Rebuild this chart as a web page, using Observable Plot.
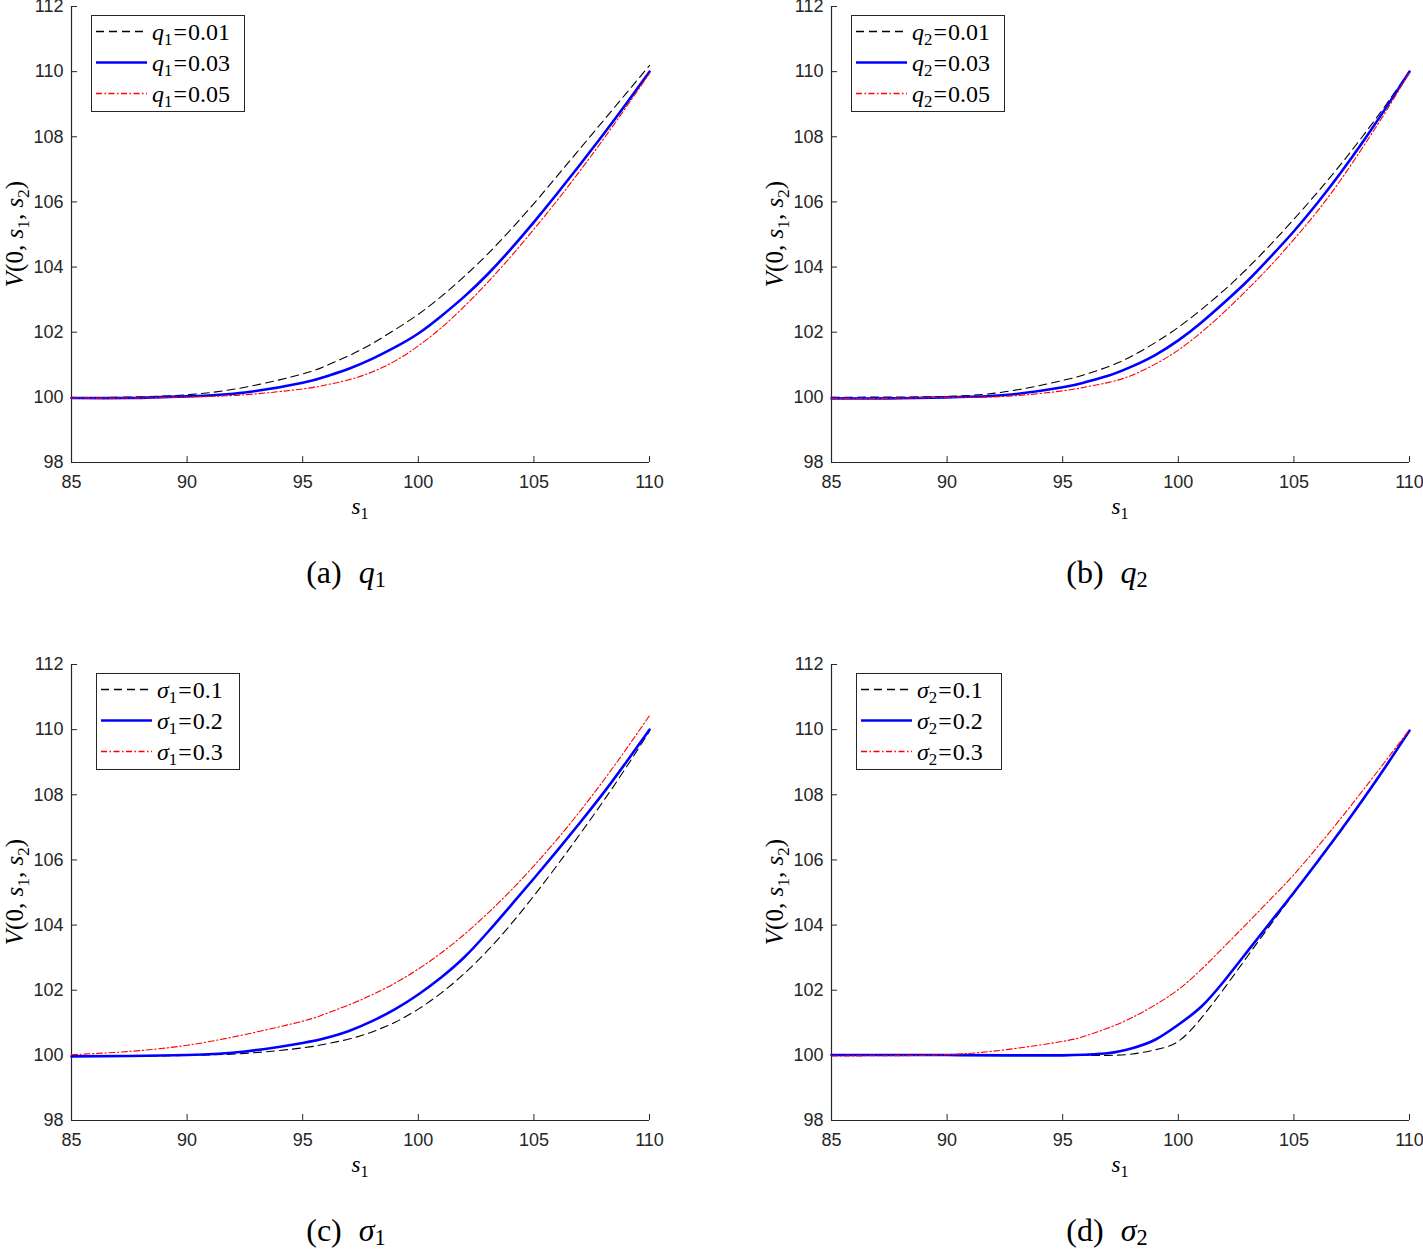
<!DOCTYPE html>
<html><head><meta charset="utf-8">
<script src="https://cdn.jsdelivr.net/npm/d3@7"></script>
<script src="https://cdn.jsdelivr.net/npm/@observablehq/plot@0.6"></script>
<style>
body{margin:0;background:#fff;}
#root{position:relative;width:1423px;height:1253px;overflow:hidden;background:#fff;}
.panel{position:absolute;}
#overlay{position:absolute;left:0;top:0;pointer-events:none;}
</style></head><body><div id="root"></div>
<script>
// ---- data ----
const sGrid = [85, 87.5, 90, 92.5, 95, 96, 97, 98, 99, 100, 101, 102, 103, 104, 105, 106, 107, 108, 109, 110];
const xTicks = [85, 90, 95, 100, 105, 110];
const yTicks = [98, 100, 102, 104, 106, 108, 110, 112];

// (a) q1
const a_q1_001 = [99.98, 100.01, 100.08, 100.31, 100.72, 100.97, 101.28, 101.65, 102.08, 102.55, 103.1, 103.72, 104.4, 105.15, 105.95, 106.79, 107.64, 108.49, 109.34, 110.19];
const a_q1_003 = [99.98, 99.98, 100.03, 100.15, 100.45, 100.64, 100.88, 101.18, 101.54, 101.96, 102.5, 103.1, 103.78, 104.55, 105.38, 106.25, 107.15, 108.07, 109.02, 110.0];
const a_q1_005 = [99.98, 99.98, 100.01, 100.08, 100.26, 100.38, 100.54, 100.78, 101.12, 101.58, 102.14, 102.8, 103.53, 104.32, 105.16, 106.04, 106.96, 107.92, 108.92, 109.95];
// (b) q2
const b_q2_001 = [100.0, 100.01, 100.03, 100.17, 100.52, 100.71, 100.95, 101.27, 101.68, 102.15, 102.7, 103.3, 103.97, 104.7, 105.47, 106.28, 107.13, 108.04, 109.0, 110.02];
const b_q2_003 = [99.97, 99.97, 100.0, 100.07, 100.31, 100.47, 100.67, 100.95, 101.3, 101.75, 102.3, 102.92, 103.58, 104.32, 105.1, 105.95, 106.87, 107.86, 108.91, 110.0];
const b_q2_005 = [99.97, 99.97, 100.0, 100.03, 100.2, 100.32, 100.46, 100.68, 101.02, 101.45, 102.0, 102.63, 103.32, 104.05, 104.85, 105.7, 106.65, 107.7, 108.8, 109.98];
// (c) sigma1
const c_s1_01 = [99.97, 99.97, 100.0, 100.06, 100.23, 100.35, 100.5, 100.72, 101.02, 101.42, 101.92, 102.52, 103.22, 104.02, 104.9, 105.83, 106.8, 107.8, 108.85, 109.95];
const c_s1_02 = [99.97, 99.98, 100.01, 100.12, 100.38, 100.53, 100.75, 101.05, 101.42, 101.87, 102.4, 103.02, 103.78, 104.6, 105.43, 106.28, 107.15, 108.05, 109.01, 110.0];
const c_s1_03 = [100.02, 100.12, 100.31, 100.64, 101.05, 101.28, 101.55, 101.86, 102.22, 102.65, 103.15, 103.72, 104.36, 105.06, 105.82, 106.63, 107.5, 108.43, 109.41, 110.43];
// (d) sigma2
const d_s2_01 = [100.0, 100.0, 100.0, 100.0, 100.0, 100.0, 100.0, 100.04, 100.17, 100.43, 101.15, 102.07, 103.05, 104.02, 104.97, 105.91, 106.86, 107.85, 108.89, 109.96];
const d_s2_02 = [100.01, 100.01, 100.01, 100.0, 100.0, 100.02, 100.07, 100.22, 100.48, 100.94, 101.5, 102.3, 103.2, 104.1, 105.0, 105.93, 106.88, 107.87, 108.9, 109.97];
const d_s2_03 = [99.98, 99.99, 100.02, 100.17, 100.43, 100.6, 100.85, 101.16, 101.55, 102.02, 102.64, 103.35, 104.07, 104.8, 105.55, 106.38, 107.25, 108.15, 109.07, 110.0];

const qLabels = ["0.01", "0.03", "0.05"];
const sigmaLabels = ["0.1", "0.2", "0.3"];

// ---- styles ----
const seriesStyles = [
  {stroke: "#000000", strokeWidth: 1.1, strokeDasharray: "8,5"},
  {stroke: "#0000ff", strokeWidth: 2.6, strokeDasharray: null},
  {stroke: "#ff0000", strokeWidth: 1.1, strokeDasharray: "6,2.5,1.5,2.5"}
];
const axisColor = "#262626";
const SERIF = "'Liberation Serif','Times New Roman',serif";

const panels = [
  {left: 0,   top: 0,   series: [a_q1_001, a_q1_003, a_q1_005], sym: "q", sub: "1", vals: qLabels, letter: "a",
   legend: {x: 91, y: 15, w: 153, h: 96}, capX: 346},
  {left: 760, top: 0,   series: [b_q2_001, b_q2_003, b_q2_005], sym: "q", sub: "2", vals: qLabels, letter: "b",
   legend: {x: 851, y: 15, w: 153, h: 96}, capX: 1107},
  {left: 0,   top: 658, series: [c_s1_01, c_s1_02, c_s1_03], sym: "σ", sub: "1", vals: sigmaLabels, letter: "c",
   legend: {x: 96, y: 673, w: 143, h: 96}, capX: 346},
  {left: 760, top: 658, series: [d_s2_01, d_s2_02, d_s2_03], sym: "σ", sub: "2", vals: sigmaLabels, letter: "d",
   legend: {x: 856, y: 673, w: 145, h: 96}, capX: 1107}
];

const W = 663, H = 530, ML = 71, MR = 14, MT = 6, MB = 68;
const root = document.getElementById("root");

for (const p of panels) {
  const lines = p.series.map((arr, k) => Plot.line(sGrid.map((s, i) => ({s, v: arr[i]})), {
    x: "s", y: "v", curve: "natural",
    stroke: seriesStyles[k].stroke, strokeWidth: seriesStyles[k].strokeWidth,
    strokeDasharray: seriesStyles[k].strokeDasharray
  }));
  const chart = Plot.plot({
    width: W, height: H,
    marginLeft: ML, marginRight: MR, marginTop: MT, marginBottom: MB,
    x: {domain: [85, 110]},
    y: {domain: [98, 112]},
    style: {fontFamily: "'Liberation Sans', Arial, sans-serif", fontSize: "18px", color: axisColor, background: "transparent", overflow: "visible"},
    marks: [
      Plot.axisX(xTicks, {tickSize: 0, tickPadding: 12.5, label: null, fill: axisColor, tickFormat: d => String(d)}),
      Plot.axisY(yTicks, {tickSize: 0, tickPadding: 8, label: null, fill: axisColor, tickFormat: d => String(d)}),
      // inward tick marks
      Plot.ruleX(xTicks, {x: d => d, y1: 98, y2: 98, insetTop: -6, stroke: axisColor, strokeWidth: 1}),
      Plot.ruleY(yTicks, {y: d => d, x1: 85, x2: 85, insetRight: -6, stroke: axisColor, strokeWidth: 1}),
      // axis lines
      Plot.ruleY([98], {stroke: axisColor, strokeWidth: 1.2}),
      Plot.ruleX([85], {stroke: axisColor, strokeWidth: 1.2}),
      ...lines
    ]
  });
  chart.classList.add("panel");
  chart.style.left = p.left + "px";
  chart.style.top = p.top + "px";
  root.appendChild(chart);
}

// ---- overlay: axis titles, legends, captions ----
const svg = d3.select(root).append("svg").attr("id", "overlay")
  .attr("width", 1423).attr("height", 1253);

function mathText(g, parts, size, subShift = 0.22) {
  const t = g.append("text").attr("font-family", SERIF).attr("font-size", size).attr("fill", "#000");
  let pending = 0;
  for (const part of parts) {
    const ts = t.append("tspan").text(part.t);
    if (part.sub) {
      ts.attr("font-size", size * 0.7).attr("dy", size * subShift);
      pending = -size * subShift;
    } else {
      if (pending) { ts.attr("dy", pending); pending = 0; }
      if (part.i) ts.attr("font-style", "italic");
      if (part.dx) ts.attr("dx", part.dx);
    }
  }
  return t;
}

for (const p of panels) {
  const px0 = p.left + ML, px1 = p.left + W - MR;
  const py0 = p.top + MT, py1 = p.top + H - MB;
  const cx = (px0 + px1) / 2, cy = (py0 + py1) / 2;

  // x title
  mathText(svg, [{t: "s", i: true}, {t: "1", sub: true}], 23)
    .attr("x", cx).attr("y", py1 + 52).attr("text-anchor", "middle");
  // y title
  mathText(svg, [{t: "V", i: true}, {t: "(0, "}, {t: "s", i: true}, {t: "1", sub: true}, {t: ", "}, {t: "s", i: true}, {t: "2", sub: true}, {t: ")"}], 25)
    .attr("text-anchor", "middle")
    .attr("transform", `translate(${p.left + 23},${cy}) rotate(-90)`);

  // caption
  mathText(svg, [{t: "(" + p.letter + ")"}, {t: p.sym, i: true, dx: 17}, {t: p.sub, sub: true}], 32, 0.13)
    .attr("x", p.capX).attr("y", py1 + 121).attr("text-anchor", "middle");

  // legend
  const L = p.legend;
  svg.append("rect").attr("x", L.x + 0.5).attr("y", L.y + 0.5).attr("width", L.w).attr("height", L.h)
    .attr("fill", "#fff").attr("stroke", axisColor).attr("stroke-width", 1);
  p.vals.forEach((v, k) => {
    const ry = L.y + 16.5 + k * 31;
    const st = seriesStyles[k];
    svg.append("line").attr("x1", L.x + 5).attr("x2", L.x + 56).attr("y1", ry).attr("y2", ry)
      .attr("stroke", st.stroke).attr("stroke-width", Math.max(st.strokeWidth, 1.3))
      .attr("stroke-dasharray", st.strokeDasharray);
    mathText(svg, [{t: p.sym, i: true}, {t: p.sub, sub: true}, {t: "=", dx: 1}, {t: v, dx: 1}], 24)
      .attr("x", L.x + 61).attr("y", ry + 8);
  });
}
</script>
</body></html>
